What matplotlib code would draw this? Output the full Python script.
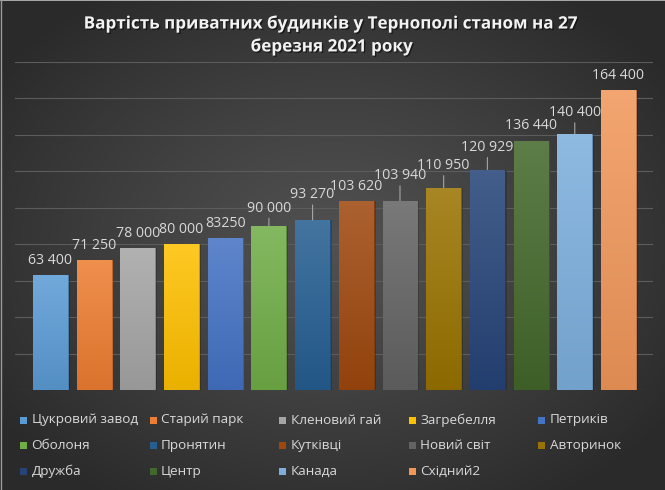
import numpy as np
import matplotlib
matplotlib.use("Agg")
import matplotlib.pyplot as plt
from matplotlib.colors import to_rgb
from matplotlib.patches import Rectangle
import matplotlib.patheffects as pe

plt.rcParams['font.family'] = ['Open Sans', 'DejaVu Sans']

# ---------------- data ----------------
districts = ["Цукровий завод", "Старий парк", "Кленовий гай", "Загребелля", "Петриків",
             "Оболоня", "Пронятин", "Кутківці", "Новий світ", "Авторинок",
             "Дружба", "Центр", "Канада", "Східний2"]
prices = [63400, 71250, 78000, 80000, 83250, 90000, 93270, 103620, 103940, 110950,
          120929, 136440, 140400, 164400]
price_labels = ["63 400", "71 250", "78 000", "80 000", "83250", "90 000", "93 270",
                "103 620", "103 940", "110 950", "120 929", "136 440", "140 400", "164 400"]
title = "Вартість приватних будинків у Тернополі станом на 27\nберезня 2021 року"

# ---------------- style ----------------
colors = ["#5B9BD5", "#ED7D31", "#A5A5A5", "#FFC000", "#4472C4", "#70AD47", "#255E91",
          "#9E480E", "#636363", "#997300", "#264478", "#43682B", "#7CAFDD", "#F1975A"]
# label offset above bar top (pixels) and whether a leader line is drawn
label_off = [14, 14.6, 14.4, 15, 14.7, 18, 25.3, 15, 25, 22.3, 22.3, 15.3, 21.4, 14.3]
leader = [False, False, False, False, False, True, True, False, True, True, True, False, True, False]

W, H, DPI = 665, 490, 100
fig = plt.figure(figsize=(W / DPI, H / DPI), dpi=DPI)

# background radial gradient
bg = fig.add_axes([0, 0, 1, 1], zorder=-10)
yy, xx = np.mgrid[0:H, 0:W]
r = np.sqrt(((xx - W * 0.5) / (W * 0.62)) ** 2 + ((yy - H * 0.5) / (H * 0.62)) ** 2)
r = np.clip(r, 0, 1)
c_in, c_out = 0.315, 0.165
g = c_in + (c_out - c_in) * r ** 1.2
bg.imshow(np.dstack([g, g, g]), extent=[0, W, H, 0], aspect='auto', interpolation='bilinear')
bg.plot([0, W], [0.5, 0.5], color="#bfbfbf", lw=1.2)
bg.plot([0.5, 0.5], [0, H], color="#9a9a9a", lw=1.0)
bg.set_xlim(0, W)
bg.set_ylim(H, 0)
bg.axis('off')

# main axes
left_px, right_px, top_px, bot_px = 15, 653, 61.7, 390.3
ax = fig.add_axes([left_px / W, 1 - bot_px / H, (right_px - left_px) / W, (bot_px - top_px) / H])
ax.set_facecolor('none')

x = np.arange(len(prices))
ymax = 180000
bars = ax.bar(x, prices, width=0.8, color=colors, zorder=3, linewidth=0.6)


def mix(c, t, a):
    c = np.array(to_rgb(c))
    t = np.array(to_rgb(t))
    return c * (1 - a) + t * a


for b, c in zip(bars, colors):
    b.set_edgecolor(mix(c, 'black', 0.15))
    x0, w, h = b.get_x(), b.get_width(), b.get_height()
    top = mix(c, 'white', 0.14)
    bottom = mix(c, 'black', 0.08)
    n = 64
    t = np.linspace(0, 1, n)[:, None]
    grad = top[None, :] * (1 - t) + bottom[None, :] * t
    im = ax.imshow(grad[:, None, :].repeat(2, axis=1), extent=[x0, x0 + w, 0, h],
                   aspect='auto', zorder=3.5, interpolation='bilinear')
    im.set_clip_path(b)
    # shadow
    sh = Rectangle((x0 + 0.04, 0), w, h, facecolor='black', alpha=0.18, zorder=2.5, lw=0)
    ax.add_patch(sh)

ax.set_xlim(-0.81, 13.79)
ax.set_ylim(0, ymax)
ax.set_yticks(np.arange(0, ymax + 1, 20000))
ax.yaxis.grid(True, color="#5c5c5c", lw=0.8, zorder=0)
ax.tick_params(left=False, bottom=False, labelleft=False, labelbottom=False)
for s in ax.spines.values():
    s.set_visible(False)

px2pt = 72 / DPI
for i, (v, lab) in enumerate(zip(prices, price_labels)):
    kw = {}
    if leader[i]:
        kw['arrowprops'] = dict(arrowstyle='-', color='#a6a6a6', lw=0.8, shrinkA=0, shrinkB=0)
    ax.annotate(lab, xy=(x[i], v), xytext=(0, label_off[i] * px2pt), textcoords='offset points',
                ha='center', va='center', fontsize=10.2, color='#d9d9d9', zorder=5, **kw)

# title
fig.text(332 / W, 1 - 35 / H, title, ha='center', va='center', fontsize=12.3, fontweight='bold',
         color='#f2f2f2', linespacing=1.35,
         path_effects=[pe.withSimplePatchShadow(offset=(1, -1), shadow_rgbFace='black', alpha=0.5)])

# legend (row-major, 5 columns)
ncol = 5
col_x0, col_dx = 20, 129.6
row_y0, row_dy = 420, 25.9
msz = 7
for i, (name, c) in enumerate(zip(districts, colors)):
    row, col = divmod(i, ncol)
    mx = col_x0 + col * col_dx
    my = row_y0 + row * row_dy
    fig.patches.append(Rectangle((mx / W, 1 - (my + msz / 2) / H), msz / W, msz / H,
                                 transform=fig.transFigure, facecolor=c, edgecolor='none'))
    fig.text((mx + 11.5) / W, 1 - my / H, name, ha='left', va='center', fontsize=9.7, color='#d9d9d9')

fig.savefig("out.png", dpi=DPI)
